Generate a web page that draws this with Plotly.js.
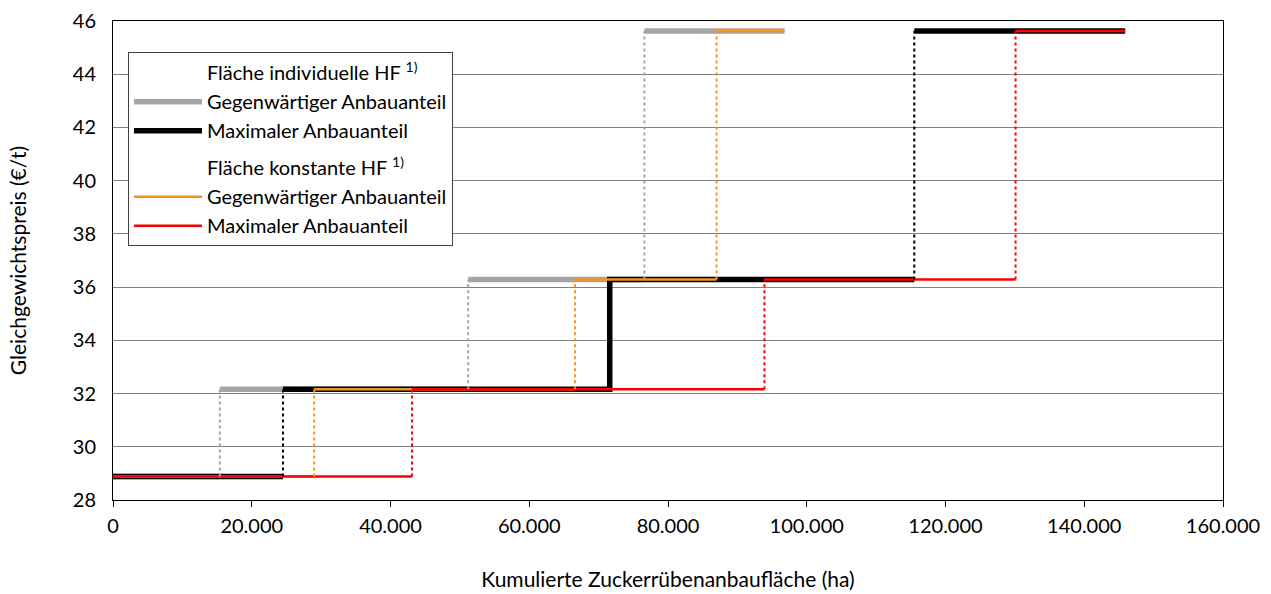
<!DOCTYPE html>
<html>
<head>
<meta charset="utf-8">
<script src="https://cdn.plot.ly/plotly-3.0.1.min.js"></script>
<style>html,body{margin:0;padding:0;background:#fff;}#chart{width:1271px;height:594px;}</style>
</head>
<body>
<div id="chart"></div>
<script>
// Equilibrium price levels (€/t)
const levels = [28.88, 32.16, 36.29, 45.62];
// Cumulative area breakpoints (ha) per series: start, switch points, end
const grayBreaks   = [0, 15400, 51200, 76600, 96800];   // individuelle HF, gegenwärtig
const blackBreaks  = [0, 24500, 71600, 115500, 145900]; // individuelle HF, maximal
const orangeBreaks = [0, 29000, 66600, 87000, 96800];   // konstante HF, gegenwärtig
const redBreaks    = [0, 43100, 93900, 130100, 145900]; // konstante HF, maximal
const xTicks = [0, 20000, 40000, 60000, 80000, 100000, 120000, 140000, 160000];
const yTicks = [28, 30, 32, 34, 36, 38, 40, 42, 44, 46];
const legendNames = {
  head1: 'Fläche individuelle HF <sup>1)</sup>',
  head2: 'Fläche konstante HF <sup>1)</sup>',
  cur: 'Gegenwärtiger Anbauanteil',
  max: 'Maximaler Anbauanteil'
};

function horiz(br, solidSteps) {
  const x = [], y = [];
  for (let i = 0; i < levels.length; i++) {
    x.push(br[i], br[i + 1]); y.push(levels[i], levels[i]);
    if (i < levels.length - 1 && !(solidSteps || []).includes(i)) { x.push(null); y.push(null); }
  }
  return {x, y};
}
function verts(br, skip) {
  const x = [], y = [];
  for (let i = 1; i < levels.length; i++) {
    if ((skip || []).includes(i - 1)) continue;
    x.push(br[i], br[i], null); y.push(levels[i - 1], levels[i], null);
  }
  return {x, y};
}

const gray = '#a5a5a5', black = '#000000', orange = '#f7941e', red = '#ff0000';
const traces = [];
traces.push({x: [null], y: [null], mode: 'lines', name: legendNames.head1, legendgroup: 'a', line: {color: 'rgba(0,0,0,0)', width: 0}, hoverinfo: 'skip'});
let h = horiz(grayBreaks);
traces.push({x: h.x, y: h.y, mode: 'lines', name: legendNames.cur, legendgroup: 'a', line: {color: gray, width: 5.5}, connectgaps: false});
h = horiz(blackBreaks, [1]);
traces.push({x: h.x, y: h.y, mode: 'lines', name: legendNames.max, legendgroup: 'a', line: {color: black, width: 5.5}, connectgaps: false});
traces.push({x: [null], y: [null], mode: 'lines', name: legendNames.head2, legendgroup: 'b', line: {color: 'rgba(0,0,0,0)', width: 0}, hoverinfo: 'skip'});
h = horiz(orangeBreaks);
traces.push({x: h.x, y: h.y, mode: 'lines', name: legendNames.cur, legendgroup: 'b', line: {color: orange, width: 2.5}, connectgaps: false});
h = horiz(redBreaks);
traces.push({x: h.x, y: h.y, mode: 'lines', name: legendNames.max, legendgroup: 'b', line: {color: red, width: 2.5}, connectgaps: false});

[[grayBreaks, gray, []], [blackBreaks, black, [1]], [orangeBreaks, orange, []], [redBreaks, red, []]].forEach(([br, c, sk]) => {
  const v = verts(br, sk);
  traces.push({x: v.x, y: v.y, mode: 'lines', showlegend: false, line: {color: c, width: 2, dash: 'dot'}, connectgaps: false, hoverinfo: 'skip'});
});

const font = 'Lato, "Open Sans", sans-serif';
const layout = {
  width: 1271, height: 594,
  margin: {l: 113, r: 48, t: 21, b: 94},
  paper_bgcolor: '#fff', plot_bgcolor: '#fff',
  separators: ',.',
  font: {family: font, size: 20, color: '#000'},
  showlegend: true,
  legend: {
    x: 0.0135, y: 0.935, xanchor: 'left', yanchor: 'top',
    bgcolor: '#fff', bordercolor: '#404040', borderwidth: 1,
    font: {family: font, size: 20, color: '#000'},
    traceorder: 'grouped', tracegroupgap: 8, itemwidth: 68
  },
  xaxis: {
    range: [0, 160000], tickvals: xTicks, tickformat: ',d',
    showgrid: false, zeroline: false,
    showline: true, linecolor: '#000', linewidth: 1, mirror: true,
    ticks: 'outside', ticklen: 6, tickcolor: '#000', ticklabelstandoff: 2,
    tickfont: {family: font, size: 20},
    title: {text: 'Kumulierte Zuckerrübenanbaufläche (ha)', font: {family: font, size: 21}, standoff: 36},
    fixedrange: true
  },
  yaxis: {
    range: [28, 46], tickvals: yTicks,
    showgrid: true, gridcolor: '#808080', gridwidth: 1, zeroline: false,
    showline: true, linecolor: '#000', linewidth: 1, mirror: true,
    ticks: '', ticklabelstandoff: 12,
    tickfont: {family: font, size: 20},
    title: {text: 'Gleichgewichtspreis (€/t)', font: {family: font, size: 21}, standoff: 40},
    fixedrange: true
  }
};
Plotly.newPlot('chart', traces, layout, {staticPlot: true, displayModeBar: false});
</script>
</body>
</html>
